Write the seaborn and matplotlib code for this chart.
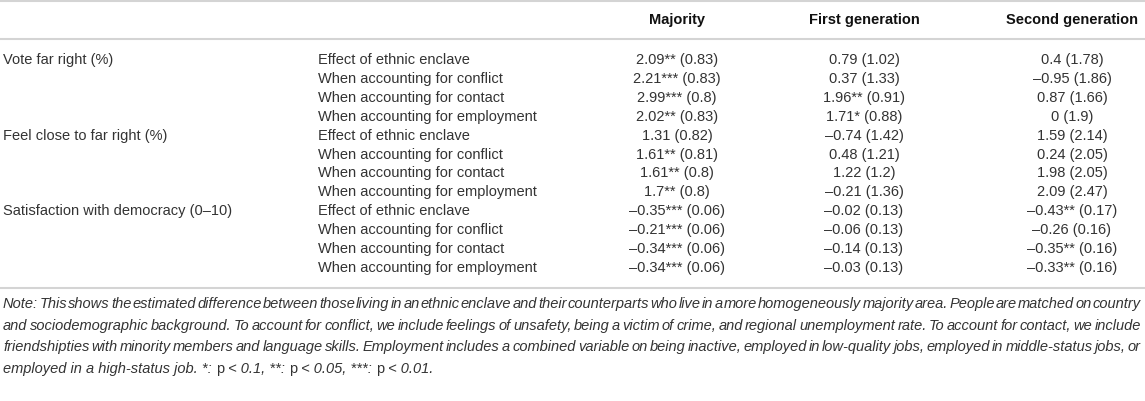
import matplotlib
matplotlib.use("Agg")
import matplotlib.pyplot as plt
import seaborn as sns

# table content
groups = ["Vote far right (%)", "Feel close to far right (%)", "Satisfaction with democracy (0\u201310)"]
models = ["Effect of ethnic enclave", "When accounting for conflict",
          "When accounting for contact", "When accounting for employment"]
columns = ["Majority", "First generation", "Second generation"]

majority = ["2.09** (0.83)", "2.21*** (0.83)", "2.99*** (0.8)", "2.02** (0.83)",
            "1.31 (0.82)", "1.61** (0.81)", "1.61** (0.8)", "1.7** (0.8)",
            "\u20130.35*** (0.06)", "\u20130.21*** (0.06)", "\u20130.34*** (0.06)", "\u20130.34*** (0.06)"]
first_gen = ["0.79 (1.02)", "0.37 (1.33)", "1.96** (0.91)", "1.71* (0.88)",
             "\u20130.74 (1.42)", "0.48 (1.21)", "1.22 (1.2)", "\u20130.21 (1.36)",
             "\u20130.02 (0.13)", "\u20130.06 (0.13)", "\u20130.14 (0.13)", "\u20130.03 (0.13)"]
second_gen = ["0.4 (1.78)", "\u20130.95 (1.86)", "0.87 (1.66)", "0 (1.9)",
              "1.59 (2.14)", "0.24 (2.05)", "1.98 (2.05)", "2.09 (2.47)",
              "\u20130.43** (0.17)", "\u20130.26 (0.16)", "\u20130.35** (0.16)", "\u20130.33** (0.16)"]

note_lines = [
    "Note: This shows the estimated difference between those living in an ethnic enclave and their counterparts who live in a more homogeneously majority area. People are matched on country",
    "and sociodemographic background. To account for conflict, we include feelings of unsafety, being a victim of crime, and regional unemployment rate. To account for contact, we include",
    "friendshipties with minority members and language skills. Employment includes a combined variable on being inactive, employed in low-quality jobs, employed in middle-status jobs, or",
]
# last line: (text, italic?)
note_last = [("employed in a high-status job. *: ", True), ("p", False), (" < 0.1, **: ", True),
             ("p", False), (" < 0.05, ***: ", True), ("p", False), (" < 0.01.", True)]

sns.set_theme(style="white")
plt.rcParams['font.family'] = ['Liberation Sans', 'DejaVu Sans']

W, H = 1145, 401
fig = plt.figure(figsize=(W / 100, H / 100), dpi=100)
ax = fig.add_axes([0, 0, 1, 1])
ax.set_xlim(0, W)
ax.set_ylim(H, 0)
ax.axis("off")

txt = "#333333"
fs = 10.5
line_col = "#d4d4d4"

# rules
for y in [1, 39, 288]:
    ax.axhline(y, color=line_col, lw=1.5)

# header
col_x = [677, 864, 1072]
for x, c in zip(col_x, columns):
    ax.text(x, 20, c, ha="center", va="center", fontsize=fs, fontweight="bold", color="#111111")

# body
row0, step = 60, 18.9
cells = list(zip(majority, first_gen, second_gen))
for i, vals in enumerate(cells):
    y = row0 + i * step
    if i % 4 == 0:
        ax.text(3, y, groups[i // 4], ha="left", va="center", fontsize=fs, color=txt)
    ax.text(318, y, models[i % 4], ha="left", va="center", fontsize=fs, color=txt)
    for x, v in zip(col_x, vals):
        ax.text(x, y, v, ha="center", va="center", fontsize=fs, color=txt)

# footnote, justified
fig.canvas.draw()
renderer = fig.canvas.get_renderer()
left, right = 3, 1141
note_y0, note_step = 304, 21.7
for k, line in enumerate(note_lines):
    y = note_y0 + k * note_step
    words = line.split(" ")
    arts = [ax.text(0, y, w, ha="left", va="center", fontsize=fs, style="italic", color=txt)
            for w in words]
    widths = [a.get_window_extent(renderer).width for a in arts]
    gap = (right - left - sum(widths)) / (len(words) - 1)
    x = left
    for a, w in zip(arts, widths):
        a.set_x(x)
        x += w + gap

# last line, mixed italic / upright
y = note_y0 + len(note_lines) * note_step
x = left
for piece, ital in note_last:
    a = ax.text(x, y, piece, ha="left", va="center", fontsize=fs,
                style="italic" if ital else "normal", color=txt)
    fig.canvas.draw()
    x += a.get_window_extent(renderer).width

fig.savefig("out.png", dpi=100)
